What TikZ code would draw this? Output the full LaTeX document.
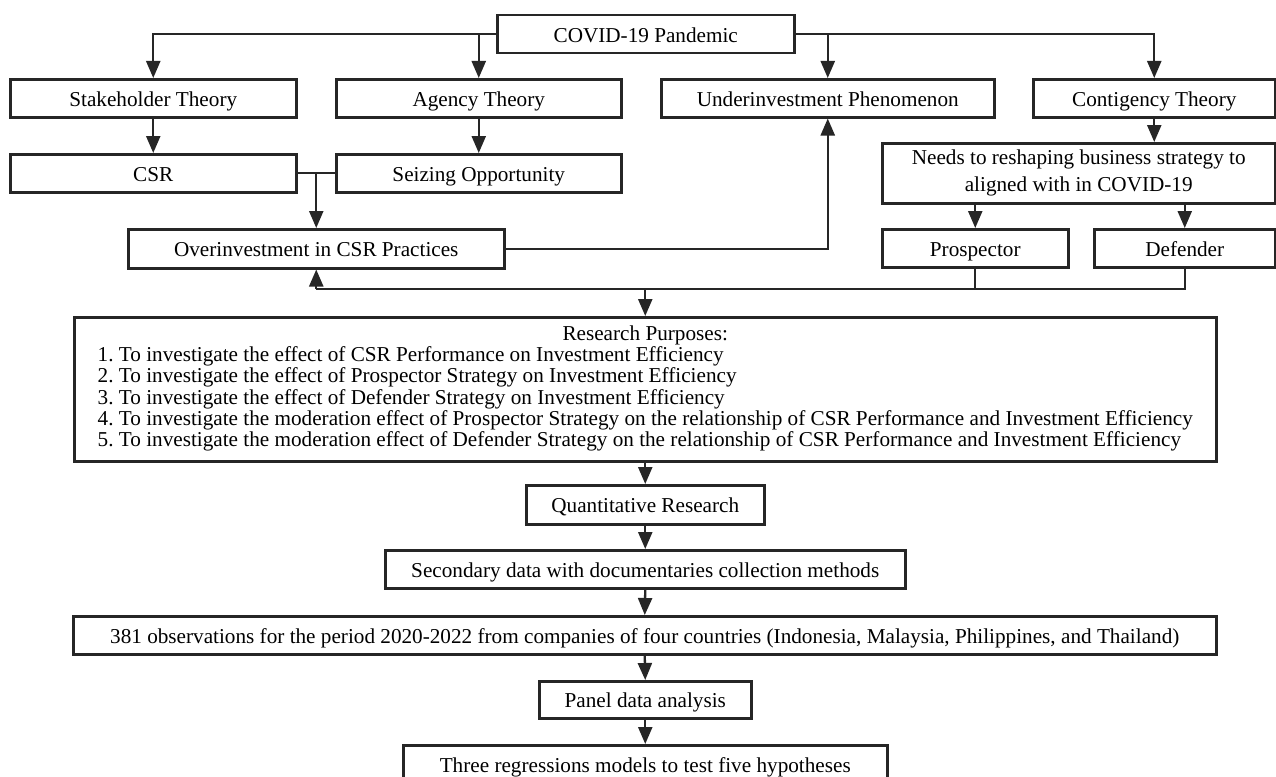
\documentclass[tikz,border=0pt]{standalone}
\usepackage{fontspec}
\setmainfont{Liberation Serif}
\usetikzlibrary{arrows.meta,calc}
\begin{document}
\frenchspacing
\begin{tikzpicture}[x=1pt,y=-1pt,
  box/.style={draw=black!85, line width=2.5pt, fill=white, inner sep=0pt, anchor=north west,
    font=\fontsize{21.2}{21.3}\selectfont, align=center},
  one/.style={box, text height=19pt, text depth=3pt},
  conn/.style={draw=black!85, line width=2.3pt},
  arr/.style={conn, -{Triangle[length=17pt,width=14pt]}}]
\fill[white] (0,0) rectangle (1276,776);
\useasboundingbox (0,0) rectangle (1276,776);
% nodes
\node[one, minimum width=297pt, minimum height=38pt] (covid) at (496,14) {COVID-19 Pandemic};
\node[one, minimum width=286pt, minimum height=38pt] (stake) at (9,78) {Stakeholder Theory};
\node[one, minimum width=285pt, minimum height=38pt] (agency) at (335,78) {Agency Theory};
\node[one, minimum width=333pt, minimum height=38pt] (under) at (660,78) {Underinvestment Phenomenon};
\node[one, minimum width=242pt, minimum height=38pt] (cont) at (1032,78) {Contigency Theory};
\node[one, minimum width=286pt, minimum height=38pt] (csr) at (9,153) {CSR};
\node[one, minimum width=285pt, minimum height=38pt] (seize) at (335,153) {Seizing Opportunity};
\node[box, minimum width=393pt, minimum height=60pt, font=\fontsize{21.2}{27}\selectfont] (needs) at (881,142) {Needs to reshaping business strategy to\\aligned with in COVID-19};
\node[one, minimum width=376pt, minimum height=39pt] (over) at (127,228) {Overinvestment in CSR Practices};
\node[one, minimum width=186pt, minimum height=38pt] (pros) at (881,228) {Prospector};
\node[one, minimum width=181pt, minimum height=38pt] (def) at (1093,228) {Defender};
\node[box, minimum width=1142pt, minimum height=144pt] (rp) at (73,316)
 {\begin{tabular}{@{}l@{}}
  \multicolumn{1}{c}{Research Purposes:}\\
  1. To investigate the effect of CSR Performance on Investment Efficiency\\
  2. To investigate the effect of Prospector Strategy on Investment Efficiency\\
  3. To investigate the effect of Defender Strategy on Investment Efficiency\\
  4. To investigate the moderation effect of Prospector Strategy on the relationship of CSR Performance and Investment Efficiency\\
  5. To investigate the moderation effect of Defender Strategy on the relationship of CSR Performance and Investment Efficiency
  \end{tabular}};
\node[one, minimum width=238pt, minimum height=39pt] (quant) at (525,484) {Quantitative Research};
\node[one, minimum width=520pt, minimum height=38pt] (sec) at (384,549) {Secondary data with documentaries collection methods};
\node[one, minimum width=1143pt, minimum height=38pt] (obs) at (72,615) {381 observations for the period 2020-2022 from companies of four countries (Indonesia, Malaysia, Philippines, and Thailand)};
\node[one, minimum width=212pt, minimum height=37pt] (panel) at (538,680) {Panel data analysis};
\node[one, minimum width=484pt, minimum height=38pt] (three) at (402,744) {Three regressions models to test five hypotheses};
% connectors from COVID
\draw[arr] (covid.west) -| (stake.north);
\draw[arr] (covid.west -| agency.north) -- (agency.north);
\draw[arr] (covid.east) -| (cont.north);
\draw[arr] (covid.east -| under.north) -- (under.north);
\draw[arr] (stake.south) -- (csr.north);
\draw[arr] (agency.south) -- (seize.north);
\draw[arr] (cont.south) -- (cont.south |- needs.north);
% CSR + seizing to overinvestment
\draw[conn] (csr.east) -- (seize.west);
\coordinate (j1) at ($(csr.east)!0.5!(seize.west)$);
\draw[arr] (j1) -- (j1 |- over.north);
\draw[arr] (over.east) -| (under.south);
% strategies
\draw[arr] (needs.south -| pros.north) -- (pros.north);
\draw[arr] (needs.south -| def.north) -- (def.north);
\coordinate (busR) at (def.south |- 0,289);
\draw[conn] (def.south) -- (busR) -- (busR -| over.south);
\draw[conn] (pros.south) -- (pros.south |- busR);
\draw[arr] (busR -| over.south) -- (over.south);
\draw[arr] (busR -| rp.north) -- (rp.north);
% method chain
\draw[arr] (rp.south) -- (quant.north);
\draw[arr] (quant.south) -- (sec.north);
\draw[arr] (sec.south) -- (obs.north);
\draw[arr] (obs.south) -- (panel.north);
\draw[arr] (panel.south) -- (three.north);
\end{tikzpicture}
\end{document}
